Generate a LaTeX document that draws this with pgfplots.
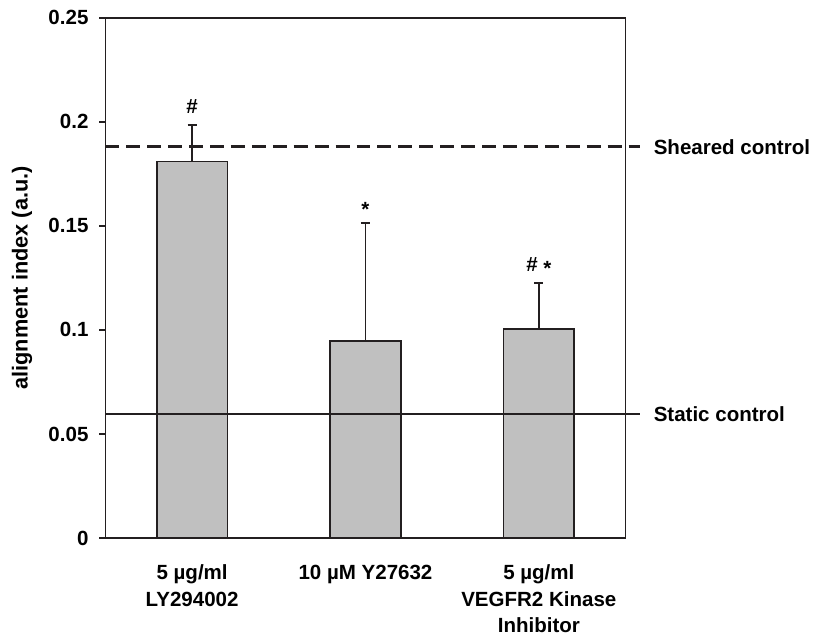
\documentclass[border=0pt]{standalone}
\usepackage{fontspec}
\setmainfont{Liberation Sans}
\usepackage{pgfplots}
\pgfplotsset{compat=1.18}
\definecolor{barfill}{RGB}{192,192,192}
\definecolor{ink}{RGB}{35,31,32}
\begin{document}
\begin{tikzpicture}[font=\fontsize{10.3}{13.3}\selectfont\bfseries]
\begin{axis}[
  scale only axis, width=261pt, height=261pt,
  xmin=-0.5, xmax=2.5, ymin=0, ymax=0.25,
  ytick={0,0.05,0.1,0.15,0.2,0.25},
  yticklabels={0,0.05,0.1,0.15,0.2,0.25},
  yticklabel style={xshift=-2pt},
  xtick={0,1,2},
  xticklabels={{5 µg/ml\\LY294002},{10 µM Y27632},{5 µg/ml\\VEGFR2 Kinase\\Inhibitor}},
  xticklabel style={align=center, yshift=-7pt},
  x tick style={draw=none},
  y tick style={ink, line width=0.9pt},
  tick align=outside, ytick pos=left, major tick length=3pt,
  axis line style={ink, line width=0.9pt},
  ylabel={alignment index (a.u.)},
  ylabel style={font=\fontsize{10.9}{12}\selectfont\bfseries, yshift=-1.4pt, inner sep=6pt},
  clip=false,
]
\addplot[ybar, bar width=35.5pt, fill=barfill, draw=ink, line width=0.9pt,
  error bars/.cd, y dir=plus, y explicit,
  error bar style={ink, line width=0.9pt},
  error mark options={rotate=90, mark size=2.3pt, line width=0.9pt, ink}]
  coordinates {(0,0.181) +- (0,0.0175) (1,0.0945) +- (0,0.057) (2,0.1005) +- (0,0.022)};
\addplot[ink, line width=1.6pt, dash pattern=on 7pt off 3.5pt, forget plot]
  coordinates {(-0.5,0.188) (2.586,0.188)};
\addplot[ink, line width=1pt, forget plot]
  coordinates {(-0.5,0.0595) (2.586,0.0595)};
\node[anchor=west, inner sep=0pt, xshift=6.5pt] at (axis cs:2.586,0.188) {Sheared control};
\node[anchor=west, inner sep=0pt, xshift=6.5pt] at (axis cs:2.586,0.0595) {Static control};
\node[anchor=base, inner sep=0pt] at (axis cs:0,0.2038) {\#};
\node[anchor=base, inner sep=0pt] at (axis cs:1,0.1565) {\raisebox{-0.2em}{*}};
\node[anchor=base, inner sep=0pt] at (axis cs:2,0.1279) {\# \raisebox{-0.2em}{*}};
\end{axis}
\path ([xshift=2pt]current bounding box.east);
\path ([yshift=2pt]current bounding box.north);
\end{tikzpicture}
\end{document}
